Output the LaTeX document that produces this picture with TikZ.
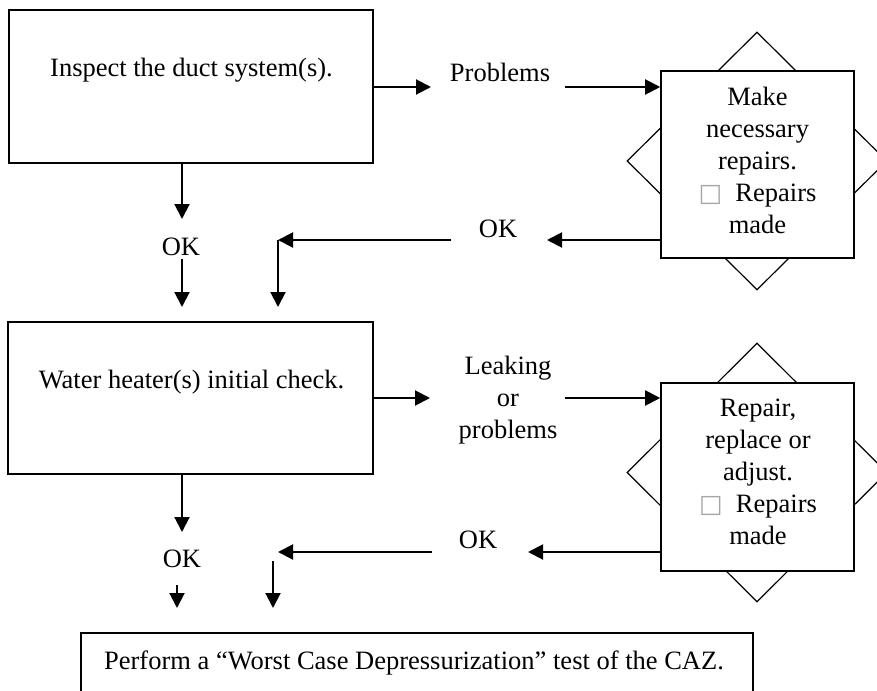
\documentclass[tikz,border=0pt]{standalone}
\usepackage{fontspec}
\setmainfont{Liberation Serif}
\newfontfamily\symfont{DejaVu Sans}
\usetikzlibrary{arrows.meta,shapes.geometric}

\newcommand{\tickbox}{{\symfont\fontsize{12.5}{12.5}\selectfont\color{gray!70}□}}

\begin{document}
\begin{tikzpicture}[x=0.5pt,y=-0.5pt,
    every node/.style={font=\fontsize{13.25}{16}\selectfont, inner sep=0pt},
    stepbox/.style={draw, line width=0.8pt, fill=white},
    starback/.style={draw, diamond, line width=0.6pt, minimum width=130pt},
    flow/.style={line width=1pt, -{Triangle[length=7.5pt,width=7.5pt]}}]
  \useasboundingbox (0,0) rectangle (877,690);
  % first row
  \node[stepbox, minimum width=182pt, minimum height=76.5pt] at (191,86.5) (D) {};
  \node[anchor=base] at (191.5,76) (Dt) {Inspect the duct system(s).};
  \node[anchor=base] at (500,82) (P) {Problems};
  \node[starback, minimum height=129pt] at (757,161) (S1) {};
  \node[stepbox, minimum width=96.5pt, minimum height=93.5pt] at (757.5,164.5) (R1) {};
  \node[anchor=base, align=center] at (757.5,233) (R1t)
    {Make\\necessary\\repairs.\\\tickbox~~Repairs\\made};
  \node[anchor=base] at (498,237) (K1) {OK};
  \node[anchor=base] at (181,255) (K2) {OK};
  % free ends, first row
  \coordinate (pA) at (431,87);
  \coordinate (pB) at (565,87);
  \coordinate (pC) at (547,240);
  \coordinate (pD) at (451,240);
  \coordinate (pE) at (278,240);
  \coordinate (pF) at (278,307);
  \coordinate (pG) at (182,219);
  \coordinate (pH) at (182,259);
  \coordinate (pI) at (182,307);
  \draw[flow] (D.east |- pA) -- (pA);
  \draw[flow] (pB) -- (pB -| R1.west);
  \draw[flow] (R1.west |- pC) -- (pC);
  \draw[flow] (pD) -- (pE);
  \draw[flow] (pE) -- (pF);
  \draw[flow] (D.south -| pG) -- (pG);
  \draw[flow] (pH) -- (pI);
  % second row
  \node[stepbox, minimum width=182.5pt, minimum height=76pt] at (190.5,398) (W) {};
  \node[anchor=base] at (191.5,388) (Wt) {Water heater(s) initial check.};
  \node[anchor=base, align=center] at (508,438) (L) {Leaking\\or\\problems};
  \node[starback, minimum height=129.5pt] at (757,472.5) (S2) {};
  \node[stepbox, minimum width=96.5pt, minimum height=94pt] at (757.5,477) (R2) {};
  \node[anchor=base, align=center] at (758,544) (R2t)
    {Repair,\\replace or\\adjust.\\\tickbox~~Repairs\\made};
  \node[anchor=base] at (478,548) (K3) {OK};
  \node[anchor=base] at (182,567) (K4) {OK};
  % free ends, second row
  \coordinate (qA) at (430,398);
  \coordinate (qB) at (565,398);
  \coordinate (qC) at (528,552);
  \coordinate (qD) at (432,552);
  \coordinate (qE) at (278,552);
  \coordinate (qF) at (273,561);
  \coordinate (qG) at (273,608);
  \coordinate (qH) at (182,532);
  \coordinate (qI) at (177,585);
  \coordinate (qJ) at (177,608);
  \draw[flow] (W.east |- qA) -- (qA);
  \draw[flow] (qB) -- (qB -| R2.west);
  \draw[flow] (R2.west |- qC) -- (qC);
  \draw[flow] (qD) -- (qE);
  \draw[flow] (qF) -- (qG);
  \draw[flow] (W.south -| qH) -- (qH);
  \draw[flow] (qI) -- (qJ);
  % last step
  \node[stepbox, minimum width=336pt, minimum height=33.5pt] at (417,666.5) (C) {};
  \node[anchor=base] at (414,669) (Ct) {Perform a “Worst Case Depressurization” test of the CAZ.};
\end{tikzpicture}
\end{document}
